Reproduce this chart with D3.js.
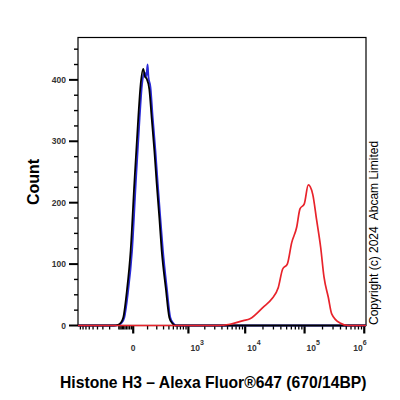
<!DOCTYPE html>
<html>
<head>
<meta charset="utf-8">
<script src="https://cdn.jsdelivr.net/npm/d3@7"></script>
<style>
  body { margin: 0; background: #fff; }
  svg { font-family: "Liberation Sans", Arial, sans-serif; }
</style>
</head>
<body>
<svg id="c" width="400" height="400"></svg>
<script>
// --- data ---
const blackX = [-1000, -150, -108, -85, -63, -38, -14, 6, 29, 45, 64, 78, 92, 116, 140, 170, 199, 235, 270, 340, 408, 470, 542, 1.07e6];
const blackY = [0, 0, 1, 4, 13, 55, 122, 231, 338, 393, 418, 405, 402, 385, 338, 285, 231, 175, 122, 60, 13, 4, 0, 0];

const blueX = [-1000, -140, -100, -77, -55, -31, -6, 14, 38, 55, 75, 88, 100, 108, 128, 152, 183, 213, 250, 290, 360, 430, 495, 570, 1.07e6];
const blueY = [0, 0, 1, 4, 13, 52, 122, 231, 338, 393, 412, 405, 425, 405, 388, 338, 285, 231, 175, 122, 60, 13, 4, 0, 0];

const redX = [-1000, 3244, 5510, 9290, 12070, 20250, 28040, 36220, 42930, 51300, 60830, 73700, 83780, 98870, 115400, 136800, 159700, 186300, 211600, 249900, 284800, 392500, 540600, 747600, 1.07e6];
const redY = [0, 0, 2, 8, 11, 30, 43, 62, 92, 100, 135, 160, 190, 198, 229, 214, 171, 127, 79, 46, 19, 4, 0, 0, 0];

const yMajor = [0, 100, 200, 300, 400];
const xMajor = [0, 1e3, 1e4, 1e5, 1e6];
const xLabels = ["0", "3", "4", "5", "6"];

const xTitle = "Histone H3 \u2013 Alexa Fluor\u00ae647 (670/14BP)";
const yTitle = "Count";
const credit = "Copyright (c) 2024  Abcam Limited";

const svg = d3.select("#c");

const pLeft = 78, pRight = 366, pTop = 37.5, pBottom = 325.5;

// biexponential-ish display, symlog is close enough
const x = d3.scaleSymlog().constant(135).domain([-1000, 1.07e6]).range([pLeft, pRight]);
const y = d3.scaleLinear().domain([0, 469]).range([pBottom, pTop]);

// minor ticks
let yMinor = d3.range(0, 451, 25).filter(v => v % 100 != 0);
let xMinor = [];
for (let v = -900; v <= -100; v += 100) xMinor.push(v);
for (let v = -90; v < 0; v += 10) xMinor.push(v);
for (let v = 100; v <= 900; v += 100) xMinor.push(v);
[1e3, 1e4, 1e5].forEach(d => { for (let k = 2; k <= 9; k++) xMinor.push(k * d); });

// frame
svg.append("rect")
  .attr("x", pLeft).attr("y", pTop)
  .attr("width", pRight - pLeft).attr("height", pBottom - pTop)
  .attr("fill", "none").attr("stroke", "#000").attr("stroke-width", 1.2);

// y axis ticks
const ya = svg.append("g");
ya.selectAll(".ymin").data(yMinor).enter().append("line")
  .attr("x1", pLeft - 4).attr("x2", pLeft)
  .attr("y1", d => y(d)).attr("y2", d => y(d))
  .attr("stroke", "#000").attr("stroke-width", 1.4);
ya.selectAll(".ymaj").data(yMajor).enter().append("line")
  .attr("x1", pLeft - 9).attr("x2", pLeft)
  .attr("y1", d => y(d)).attr("y2", d => y(d))
  .attr("stroke", "#000").attr("stroke-width", 2);
ya.selectAll("text").data(yMajor).enter().append("text")
  .attr("x", pLeft - 12).attr("y", d => y(d) + 3)
  .attr("text-anchor", "end")
  .attr("font-size", 8.5).attr("font-weight", "bold").attr("fill", "#333")
  .text(d => d);

// x axis ticks
const xa = svg.append("g");
xa.selectAll(".xmin").data(xMinor).enter().append("line")
  .attr("x1", d => x(d)).attr("x2", d => x(d))
  .attr("y1", pBottom).attr("y2", pBottom + 4)
  .attr("stroke", "#000").attr("stroke-width", 1.3);
xa.selectAll(".xmaj").data(xMajor).enter().append("line")
  .attr("x1", d => x(d)).attr("x2", d => x(d))
  .attr("y1", pBottom).attr("y2", pBottom + 8)
  .attr("stroke", "#000").attr("stroke-width", 2.2);

xMajor.forEach(function (v, i) {
  let t = xa.append("text")
    .attr("y", 351)
    .attr("font-size", 8.5).attr("font-weight", "bold").attr("fill", "#333");
  if (i == 0) {
    t.attr("x", x(v)).attr("text-anchor", "middle").text("0");
  } else {
    let px = x(v) + 2;
    if (i == xMajor.length - 1) px = x(v) - 11;
    t.attr("x", px);
    t.append("tspan").text("10");
    t.append("tspan").attr("dy", -6).attr("font-size", 7).text(xLabels[i]);
  }
});

// histograms
const line = d3.line()
  .x(d => x(d[0]))
  .y(d => y(d[1]))
  .curve(d3.curveMonotoneX);

svg.append("path")
  .datum(d3.zip(blueX, blueY))
  .attr("d", line)
  .attr("fill", "none").attr("stroke", "#2a2ad8").attr("stroke-width", 1.8);

svg.append("path")
  .datum(d3.zip(blackX, blackY))
  .attr("d", line)
  .attr("fill", "none").attr("stroke", "#000").attr("stroke-width", 1.8);

svg.append("path")
  .datum(d3.zip(redX, redY))
  .attr("d", line)
  .attr("fill", "none").attr("stroke", "#e8232b").attr("stroke-width", 1.7)
  .attr("stroke-linejoin", "round");

// titles
svg.append("text")
  .attr("x", 60).attr("y", 388)
  .attr("font-size", 15.7).attr("font-weight", "bold")
  .text(xTitle);

svg.append("text")
  .attr("transform", "translate(38.5," + 182 + ") rotate(-90)")
  .attr("text-anchor", "middle")
  .attr("font-size", 16).attr("font-weight", "bold")
  .text(yTitle);

svg.append("text")
  .attr("transform", "translate(378,325) rotate(-90)")
  .attr("font-size", 12)
  .style("white-space", "pre")
  .text(credit);
</script>
</body>
</html>
